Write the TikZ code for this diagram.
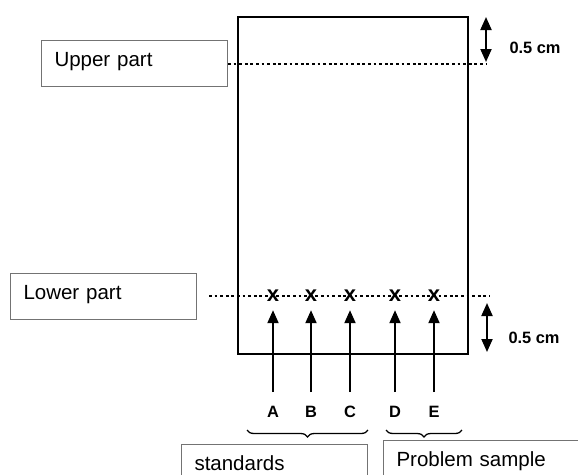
\documentclass[tikz,border=0pt]{standalone}
\usepackage{fontspec}
\setmainfont{Liberation Sans}
\usetikzlibrary{arrows.meta,decorations.pathreplacing}
\tikzset{
  labelbox/.style={draw=black!55, line width=1pt, anchor=north west,
    inner xsep=13pt, inner ysep=10pt, text height=16pt, text depth=10pt,
    align=left, font=\fontsize{20.5}{24}\selectfont},
  level/.style={line width=2pt, dash pattern=on 2.8pt off 2.8pt},
  spotmark/.style={inner sep=0pt, minimum height=28pt,
    font=\fontsize{22}{26}\selectfont\bfseries},
  lane/.style={font=\fontsize{16.4}{20}\selectfont\bfseries},
  push/.style={line width=2pt, -{Triangle[length=13pt,width=11pt]}},
  span/.style={line width=2pt, {Triangle[length=13pt,width=11pt]}-{Triangle[length=13pt,width=11pt]}},
  group/.style={line width=1.3pt, decorate,
    decoration={brace, mirror, amplitude=7pt}},
}
\begin{document}
\begin{tikzpicture}[x=1pt, y=-1pt]
  \useasboundingbox (0,0) rectangle (578,474);
  \clip (0,0) rectangle (578,474);

  % the plate
  \node[draw, line width=2pt, inner sep=0pt, anchor=north west,
        minimum width=230pt, minimum height=337pt] (plate) at (237,16) {};

  % labels on the left
  \node[labelbox, text width=160pt] (upper) at (41,40) {Upper part};
  \node[labelbox, text width=160pt] (lower) at (10,273) {Lower part};

  % marked levels
  \coordinate (uend) at (487,64);
  \coordinate (lend) at (490,296);
  \draw[level] (upper.east |- uend) -- (uend);
  \draw[level] (209,296) -- (lend);

  % 0.5 cm margins
  \coordinate (ut) at (486,17);
  \coordinate (ub) at (486,62);
  \coordinate (lt) at (487,303);
  \coordinate (lb) at (487,352);
  \draw[span] (ut) -- (ub);
  \draw[span] (lt) -- (lb);
  \node[lane, anchor=west] (um) at (506,48) {0.5 cm};
  \node[lane, anchor=west] (lm) at (505,338) {0.5 cm};

  % spots and their lanes
  \foreach \n/\x/\t in {a/273/A, b/311/B, c/350/C, d/395/D, e/434/E}{
    \node[spotmark] (x\n) at (\x,296) {x};
    \node[lane] (l\n) at (\x,412) {\t};
    \coordinate (s\n) at (\x,392);
    \draw[push] (s\n) -- (x\n.south);
  }

  % grouping braces
  \coordinate (g1) at (247,430);
  \coordinate (g2) at (368,430);
  \coordinate (g3) at (386,430);
  \coordinate (g4) at (462,430);
  \draw[group] (g1) -- (g2);
  \draw[group] (g3) -- (g4);

  \node[labelbox, text width=160pt] (std) at (181,444) {standards};
  \node[labelbox, text width=180pt] (prob) at (383,440) {Problem sample};
\end{tikzpicture}
\end{document}
